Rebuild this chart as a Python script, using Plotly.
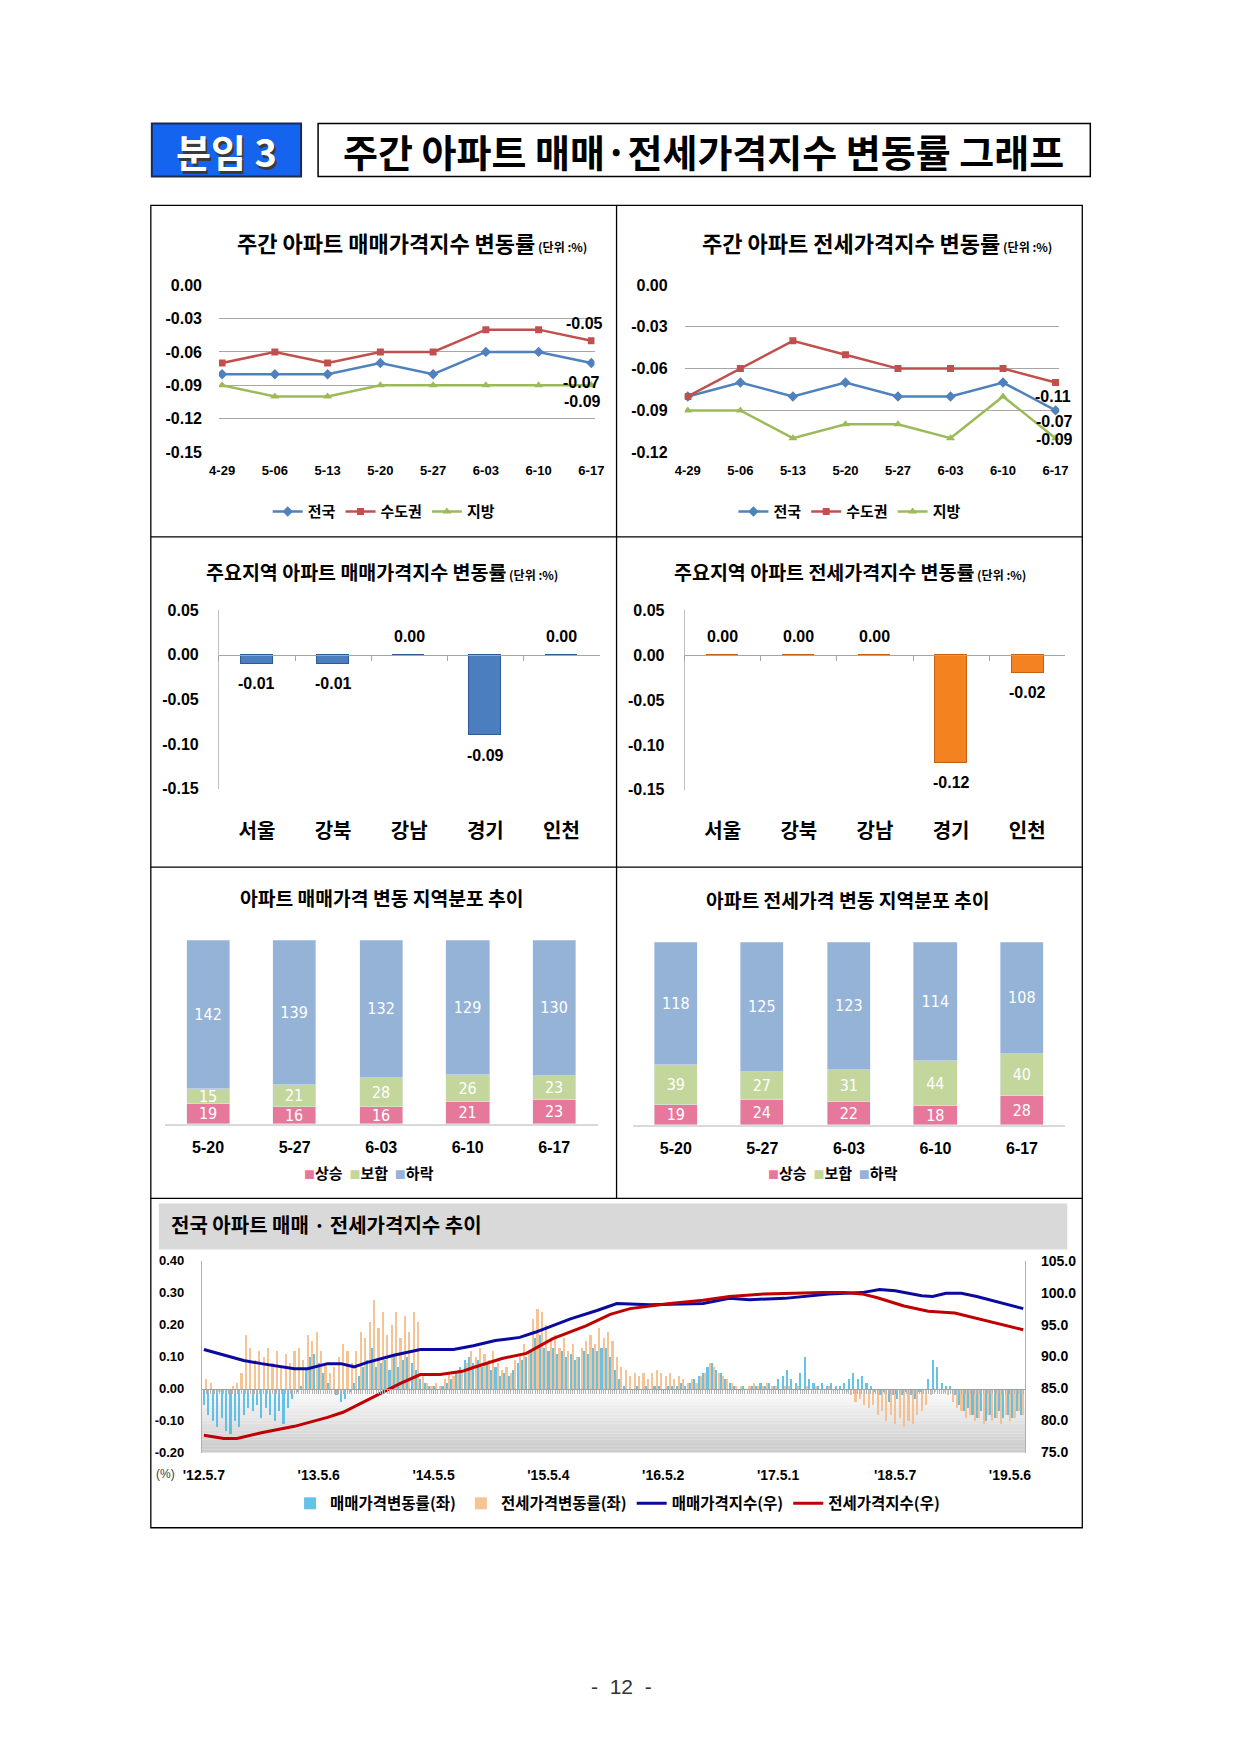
import plotly.graph_objects as go

# Page geometry: the page body keeps its default 8px margin, so the figure is sized
# to fit the window; AX/BX/AY/BY map reference-pixel positions to page positions.
PAGE_W, PAGE_H, OFF = 1239, 1752, 8
FW, FH = PAGE_W - 2 * OFF, PAGE_H - 2 * OFF
AX, BX = 1.0259, -21.1
AY, BY = 1.0103, -8.9
def fx(p): return (AX * p + BX - OFF) / FW
def fy(p): return 1 - (AY * p + BY - OFF) / FH

NUM = "Liberation Sans, Noto Sans CJK KR, sans-serif"
KR = "Noto Sans CJK KR, Liberation Sans, sans-serif"
NARROW = "Liberation Sans Narrow, DejaVu Sans Condensed, Liberation Sans, sans-serif"

# ---------------- data ----------------
weeks = ['4-29', '5-06', '5-13', '5-20', '5-27', '6-03', '6-10', '6-17']
sale_nation = [-0.08, -0.08, -0.08, -0.07, -0.08, -0.06, -0.06, -0.07]
sale_capital = [-0.07, -0.06, -0.07, -0.06, -0.06, -0.04, -0.04, -0.05]
sale_local = [-0.09, -0.10, -0.10, -0.09, -0.09, -0.09, -0.09, -0.09]
jeonse_nation = [-0.08, -0.07, -0.08, -0.07, -0.08, -0.08, -0.07, -0.09]
jeonse_capital = [-0.08, -0.06, -0.04, -0.05, -0.06, -0.06, -0.06, -0.07]
jeonse_local = [-0.09, -0.09, -0.11, -0.10, -0.10, -0.11, -0.08, -0.11]
sale_ticks = [0.00, -0.03, -0.06, -0.09, -0.12, -0.15]
jeonse_ticks = [0.00, -0.03, -0.06, -0.09, -0.12]

regions = ['서울', '강북', '강남', '경기', '인천']
region_sale = [-0.01, -0.01, 0.00, -0.09, 0.00]
region_jeonse = [0.00, 0.00, 0.00, -0.12, -0.02]
region_ticks = [0.05, 0.00, -0.05, -0.10, -0.15]

dist_weeks = ['5-20', '5-27', '6-03', '6-10', '6-17']
dist_names = ['상승', '보합', '하락']
sale_up = [19, 16, 16, 21, 23]
sale_flat = [15, 21, 28, 26, 23]
sale_down = [142, 139, 132, 129, 130]
jeonse_up = [19, 24, 22, 18, 28]
jeonse_flat = [39, 27, 31, 44, 40]
jeonse_down = [118, 125, 123, 114, 108]

# long-term trend, weeks counted from 2012-05-07
trend_tick_weeks = [0, 52, 104, 156, 208, 260, 313, 365]
trend_tick_labels = ["'12.5.7", "'13.5.6", "'14.5.5", "'15.5.4", "'16.5.2", "'17.5.1", "'18.5.7", "'19.5.6"]
trend_left_ticks = [0.40, 0.30, 0.20, 0.10, 0.00, -0.10, -0.20]
trend_right_ticks = [105, 100, 95, 90, 85, 80, 75]
sale_chg = [
    -0.05, -0.08, -0.10, -0.12, -0.09, -0.13, -0.14, -0.10, -0.12, -0.08,
    -0.06, -0.07, -0.05, -0.09, -0.06, -0.08, -0.10, -0.07, -0.11, -0.06,
    -0.03, -0.01, 0.01, 0.06, 0.10, 0.11, 0.08, 0.05, 0.02, 0.00,
    -0.02, -0.04, -0.03, -0.01, 0.02, 0.04, 0.07, 0.09, 0.13, 0.07,
    0.08, 0.09, 0.06, 0.10, 0.07, 0.09, 0.10, 0.08, 0.06, 0.03,
    0.02, 0.01, 0.01, 0.00, 0.01, 0.02, 0.03, 0.05, 0.07, 0.09,
    0.10, 0.08, 0.09, 0.07, 0.08, 0.06, 0.07, 0.04, 0.05, 0.04,
    0.06, 0.08, 0.09, 0.10, 0.12, 0.16, 0.17, 0.13, 0.12, 0.13,
    0.11, 0.12, 0.10, 0.11, 0.09, 0.10, 0.12, 0.11, 0.13, 0.12,
    0.13, 0.13, 0.10, 0.06, 0.03, 0.01, 0.00, 0.00, 0.01, 0.00,
    0.01, 0.00, 0.01, 0.01, 0.00, 0.01, 0.01, 0.01, 0.02, 0.01,
    0.02, 0.03, 0.04, 0.05, 0.07, 0.08, 0.06, 0.05, 0.03, 0.02,
    0.01, 0.00, 0.01, 0.00, 0.01, 0.01, 0.02, 0.01, 0.02, 0.01,
    0.03, 0.04, 0.06, 0.03, 0.02, 0.05, 0.10, 0.03, 0.02, 0.01,
    0.02, 0.01, 0.02, 0.01, 0.01, 0.02, 0.03, 0.05, 0.03, 0.04,
    0.02, 0.01, -0.01, -0.02, -0.01, -0.04, -0.02, -0.03, -0.02, -0.01,
    -0.02, -0.03, -0.01, 0.00, 0.03, 0.09, 0.07, 0.02, 0.01, 0.01,
    -0.02, -0.05, -0.07, -0.06, -0.08, -0.09, -0.07, -0.10, -0.08, -0.09,
    -0.07, -0.09, -0.08, -0.09, -0.07, -0.08,
]
jeonse_chg = [
    0.03, 0.02, 0.00, -0.01, 0.00, 0.00, 0.01, 0.02, 0.05, 0.17,
    0.13, 0.09, 0.12, 0.10, 0.13, 0.08, 0.12, 0.07, 0.11, 0.08,
    0.12, 0.13, 0.09, 0.17, 0.15, 0.18, 0.12, 0.08, 0.05, 0.07,
    0.10, 0.14, 0.12, 0.08, 0.12, 0.18, 0.16, 0.21, 0.28, 0.19,
    0.24, 0.17, 0.20, 0.24, 0.16, 0.23, 0.18, 0.24, 0.21, 0.05,
    0.02, 0.01, 0.02, 0.01, 0.03, 0.05, 0.04, 0.06, 0.05, 0.08,
    0.12, 0.10, 0.13, 0.11, 0.09, 0.12, 0.08, 0.06, 0.07, 0.05,
    0.09, 0.11, 0.14, 0.12, 0.22, 0.25, 0.24, 0.20, 0.15, 0.17,
    0.13, 0.16, 0.12, 0.14, 0.10, 0.13, 0.15, 0.17, 0.14, 0.19,
    0.16, 0.18, 0.15, 0.10, 0.07, 0.06, 0.04, 0.05, 0.04, 0.05,
    0.03, 0.05, 0.06, 0.05, 0.04, 0.05, 0.03, 0.04, 0.03, 0.02,
    0.03, 0.02, 0.04, 0.05, 0.08, 0.07, 0.05, 0.04, 0.03, 0.02,
    0.01, 0.01, 0.00, 0.01, 0.02, 0.01, 0.01, 0.02, 0.01, 0.01,
    0.00, 0.01, 0.01, 0.00, 0.01, 0.00, 0.01, 0.00, 0.01, 0.00,
    0.00, 0.01, 0.00, 0.00, 0.00, -0.01, -0.02, -0.04, -0.03, -0.05,
    -0.06, -0.05, -0.08, -0.07, -0.10, -0.08, -0.11, -0.09, -0.12, -0.10,
    -0.11, -0.08, -0.07, -0.05, -0.02, -0.01, 0.00, -0.01, -0.02, -0.04,
    -0.06, -0.07, -0.09, -0.08, -0.10, -0.09, -0.11, -0.08, -0.10, -0.09,
    -0.11, -0.08, -0.10, -0.09, -0.07, -0.08,
]
chg_weeks = list(range(0, 2 * len(sale_chg), 2))
sale_idx_weeks = [0, 18, 26, 41, 47, 56, 62, 68, 74, 86, 98, 113, 122, 132, 143, 150, 166, 178, 187,
                  202, 226, 238, 247, 263, 283, 298, 306, 313, 325, 330, 336, 343, 350, 360, 371]
sale_idx = [91.1, 89.4, 88.9, 88.1, 88.1, 88.9, 88.9, 88.4, 89.1, 90.2, 91.1, 91.1, 91.7, 92.5, 93.0, 93.8,
            95.9, 97.2, 98.3, 98.1, 98.3, 99.1, 98.9, 99.1, 99.8, 100.0, 100.5, 100.3, 99.5, 99.4, 99.9,
            99.9, 99.4, 98.5, 97.5]
jeonse_idx_weeks = [0, 9, 15, 26, 41, 56, 63, 78, 89, 98, 107, 117, 122, 135, 146, 158, 173, 184, 193,
                    211, 226, 238, 254, 280, 290, 298, 305, 317, 328, 340, 350, 360, 371]
jeonse_idx = [77.7, 77.2, 77.2, 78.1, 79.1, 80.5, 81.3, 83.9, 85.8, 87.2, 87.2, 87.7, 88.3, 89.7, 90.5,
              92.8, 94.8, 96.6, 97.5, 98.3, 98.8, 99.4, 99.8, 100.0, 100.0, 99.8, 99.2, 97.9, 97.1, 96.8,
              96.0, 95.1, 94.2]

# ---------------- figure ----------------
fig = go.Figure()

series_style = [('<b>전국</b>', '#4f81bd', 'diamond', 8),
                ('<b>수도권</b>', '#c0504d', 'square', 7),
                ('<b>지방</b>', '#9bbb59', 'triangle-up', 8)]
for (nm, col, sym, sz), ys in zip(series_style, [sale_nation, sale_capital, sale_local]):
    fig.add_trace(go.Scatter(x=weeks, y=ys, name=nm, mode='lines+markers',
                             line=dict(color=col, width=2.5), marker=dict(symbol=sym, size=sz, color=col),
                             xaxis='x', yaxis='y', legend='legend', hoverinfo='skip'))
for (nm, col, sym, sz), ys in zip(series_style, [jeonse_nation, jeonse_capital, jeonse_local]):
    fig.add_trace(go.Scatter(x=weeks, y=ys, name=nm, mode='lines+markers',
                             line=dict(color=col, width=2.5), marker=dict(symbol=sym, size=sz, color=col),
                             xaxis='x2', yaxis='y2', legend='legend2', hoverinfo='skip'))

fig.add_trace(go.Bar(x=regions, y=region_sale, width=0.42, xaxis='x3', yaxis='y3', showlegend=False,
                     marker=dict(color='#4a7ebf', line=dict(color='#2d5b96', width=1)), hoverinfo='skip'))
fig.add_trace(go.Bar(x=regions, y=region_jeonse, width=0.42, xaxis='x4', yaxis='y4', showlegend=False,
                     marker=dict(color='#f58220', line=dict(color='#c4600f', width=1)), hoverinfo='skip'))

dist_colors = ['#e6799b', '#c3d69b', '#95b3d7']
for nm, col, ys in zip(dist_names, dist_colors, [sale_up, sale_flat, sale_down]):
    fig.add_trace(go.Bar(x=dist_weeks, y=ys, name=nm, width=0.5, marker=dict(color=col),
                         text=ys, textposition='inside', insidetextanchor='middle', constraintext='none',
                         textangle=0, textfont=dict(family=NARROW, size=16, color='#ffffff'),
                         xaxis='x5', yaxis='y5', showlegend=False, hoverinfo='skip'))
for nm, col, ys in zip(dist_names, dist_colors, [jeonse_up, jeonse_flat, jeonse_down]):
    fig.add_trace(go.Bar(x=dist_weeks, y=ys, name=nm, width=0.5, marker=dict(color=col),
                         text=ys, textposition='inside', insidetextanchor='middle', constraintext='none',
                         textangle=0, textfont=dict(family=NARROW, size=16, color='#ffffff'),
                         xaxis='x6', yaxis='y6', showlegend=False, hoverinfo='skip'))

fig.add_trace(go.Bar(x=chg_weeks, y=sale_chg, width=0.95, name='매매가격변동률(좌)',
                     marker=dict(color='#4cb8e3', line=dict(width=0)), opacity=0.85,
                     xaxis='x7', yaxis='y7', legend='legend5', hoverinfo='skip'))
fig.add_trace(go.Bar(x=[w + 1 for w in chg_weeks], y=jeonse_chg, width=0.95, name='전세가격변동률(좌)',
                     marker=dict(color='#f6bd8a', line=dict(width=0)), opacity=0.9,
                     xaxis='x7', yaxis='y7', legend='legend5', hoverinfo='skip'))
fig.add_trace(go.Scatter(x=sale_idx_weeks, y=sale_idx, mode='lines', name='매매가격지수(우)',
                         line=dict(color='#0a0a9e', width=3), xaxis='x7', yaxis='y8', legend='legend5',
                         hoverinfo='skip'))
fig.add_trace(go.Scatter(x=jeonse_idx_weeks, y=jeonse_idx, mode='lines', name='전세가격지수(우)',
                         line=dict(color='#c00000', width=3), xaxis='x7', yaxis='y8', legend='legend5',
                         hoverinfo='skip'))

def tf(size, bold=True, family=NUM, color='#000000'):
    d = dict(family=family, size=size, color=color)
    if bold:
        d['weight'] = 'bold'
    return d

def zero_pos(dom, rng):
    return dom[0] + (0 - rng[0]) / (rng[1] - rng[0]) * (dom[1] - dom[0])

def labels(vals, fmt):
    return [format(v, fmt) for v in vals]

# axes ranges / domains
y1_dom = [fy(453), fy(285)]
y3_dom = [fy(789), fy(610)]
y4_dom = [fy(790), fy(610)]
y7_dom = [fy(1452), fy(1260)]
r1 = [-0.1505, 0.0005]
r2 = [-0.1204, 0.0004]
r34 = [-0.1502, 0.0502]
r7 = [-0.2005, 0.4005]
max_total = max(a + b + c for a, b, c in zip(sale_up, sale_flat, sale_down))

layout_axes = dict(
    xaxis=dict(domain=[fx(220), fx(595)], anchor='y', type='category', range=[-0.06, 7.06],
               showgrid=False, showline=False, ticks='', tickfont=tf(13), ticklabelstandoff=8),
    yaxis=dict(domain=y1_dom, anchor='x', range=r1, tickmode='array', tickvals=sale_ticks,
               ticktext=labels(sale_ticks, '.2f'),
               showgrid=True, gridcolor='#a6a6a6', gridwidth=1, zeroline=False, showline=False,
               tickfont=tf(16), ticklabelstandoff=16),
    xaxis2=dict(domain=[fx(685), fx(1059)], anchor='y2', type='category', range=[-0.06, 7.07],
                showgrid=False, showline=False, ticks='', tickfont=tf(13), ticklabelstandoff=8),
    yaxis2=dict(domain=y1_dom, anchor='x2', range=r2, tickmode='array', tickvals=jeonse_ticks,
                ticktext=labels(jeonse_ticks, '.2f'), showgrid=True, gridcolor='#a6a6a6', gridwidth=1,
                zeroline=False, showline=False, tickfont=tf(16), ticklabelstandoff=16),
    xaxis3=dict(domain=[fx(220), fx(600)], anchor='free', position=zero_pos(y3_dom, r34), type='category',
                range=[-0.5, 4.5], showline=True, linecolor='#a6a6a6', ticks='outside', ticklen=5,
                tickcolor='#a6a6a6', tickson='boundaries', showgrid=False,
                tickfont=tf(20, family=KR), ticklabelstandoff=158),
    yaxis3=dict(domain=y3_dom, anchor='x3', range=r34, tickmode='array', tickvals=region_ticks,
                ticktext=labels(region_ticks, '.2f'), showgrid=False, zeroline=False, showline=True,
                linecolor='#bfbfbf', tickfont=tf(16), ticklabelstandoff=16),
    xaxis4=dict(domain=[fx(685), fx(1065)], anchor='free', position=zero_pos(y4_dom, r34), type='category',
                range=[-0.5, 4.5], showline=True, linecolor='#a6a6a6', ticks='outside', ticklen=5,
                tickcolor='#a6a6a6', tickson='boundaries', showgrid=False,
                tickfont=tf(20, family=KR), ticklabelstandoff=158),
    yaxis4=dict(domain=y4_dom, anchor='x4', range=r34, tickmode='array', tickvals=region_ticks,
                ticktext=labels(region_ticks, '.2f'), showgrid=False, zeroline=False, showline=True,
                linecolor='#bfbfbf', tickfont=tf(16), ticklabelstandoff=16),
    xaxis5=dict(domain=[fx(166), fx(598)], anchor='y5', type='category', showline=True,
                linecolor='#d9d9d9', linewidth=1.5, ticks='', showgrid=False, tickfont=tf(16),
                ticklabelstandoff=8),
    yaxis5=dict(domain=[fy(1124), fy(940)], anchor='x5', range=[0, max_total], visible=False),
    xaxis6=dict(domain=[fx(633), fx(1065)], anchor='y6', type='category', showline=True,
                linecolor='#d9d9d9', linewidth=1.5, ticks='', showgrid=False, tickfont=tf(16),
                ticklabelstandoff=8),
    yaxis6=dict(domain=[fy(1125), fy(942)], anchor='x6', range=[0, max_total], visible=False),
    xaxis7=dict(domain=[fx(203), fx(1025)], anchor='free', position=zero_pos(y7_dom, r7),
                range=[-0.9, 371.9], tickmode='array', tickvals=trend_tick_weeks, ticktext=trend_tick_labels,
                showline=True, linecolor='#a0a0a0', ticks='outside', ticklen=4, tickcolor='#a0a0a0',
                minor=dict(tickmode='linear', tick0=0, dtick=1, ticks='outside', ticklen=4,
                           tickcolor='#b4b4b4'),
                showgrid=False, tickfont=tf(14), ticklabelstandoff=70),
    yaxis7=dict(domain=y7_dom, anchor='x7', range=r7, tickmode='array', tickvals=trend_left_ticks,
                ticktext=labels(trend_left_ticks, '.2f'), showgrid=False, zeroline=False, showline=True,
                linecolor='#b0b0b0', tickfont=tf(13), ticklabelstandoff=14),
    yaxis8=dict(overlaying='y7', side='right', anchor='x7', range=[74.98, 105.02], tickmode='array',
                tickvals=trend_right_ticks, ticktext=labels(trend_right_ticks, '.1f'), showgrid=False,
                zeroline=False, showline=True, linecolor='#b0b0b0', tickfont=tf(14), ticklabelstandoff=12),
)

legend_common = dict(orientation='h', xanchor='center', yanchor='middle', bgcolor='rgba(0,0,0,0)',
                     itemwidth=30, traceorder='normal', itemclick=False)
layout_legends = dict(
    legend=dict(x=fx(385), y=fy(512), font=tf(15, family=KR), **legend_common),
    legend2=dict(x=fx(850), y=fy(512), font=tf(15, family=KR), **legend_common),
    legend5=dict(x=fx(618), y=fy(1503), font=tf(15.5, family=KR), **legend_common),
)

ann = []
def paper_text(x, y, text, size, bold=True, family=KR, color='#000000', xanchor='center'):
    ann.append(dict(x=fx(x), y=fy(y), xref='paper', yref='paper', text=text, showarrow=False,
                    xanchor=xanchor, yanchor='middle', font=tf(size, bold, family, color)))

unit = "<span style='font-size:12px'> (단위 :%)</span>"
paper_text(413, 243, '주간 아파트 매매가격지수 변동률' + unit, 22)
paper_text(877, 243, '주간 아파트 전세가격지수 변동률' + unit, 22)
paper_text(383, 572, '주요지역 아파트 매매가격지수 변동률' + unit, 19.5)
paper_text(850, 572, '주요지역 아파트 전세가격지수 변동률' + unit, 19.5)
paper_text(383, 898, '아파트 매매가격 변동 지역분포 추이', 19.3)
paper_text(848, 900, '아파트 전세가격 변동 지역분포 추이', 19.3)
paper_text(170, 1224, '전국 아파트 매매 · 전세가격지수 추이', 20, xanchor='left')
paper_text(167, 1473, '(%)', 12, bold=False, family=NUM, color='#404040')
paper_text(622, 1686, '-\u00a0\u00a012\u00a0\u00a0-', 21, bold=False, family=NUM, color='#333333')
# header
paper_text(230, 154, '분임 3', 38, color='#3a3a3a')
paper_text(228, 151, '분임 3', 38, color='#ffffff')
paper_text(704, 151, '주간 아파트 매매·전세가격지수 변동률 그래프', 38)

# compact legends for the distribution panels (square marker + label, Excel style)
dist_legend = '\u00a0\u00a0'.join(
    f"<span style='color:{c}; font-size:11px'>■</span>{n}" for n, c in zip(dist_names, dist_colors))
paper_text(370, 1172, dist_legend, 15)
paper_text(833, 1172, dist_legend, 15)

# end-of-line value labels (panels 1, 2)
def end_label(xref, yref, series, ysh, xsh):
    ann.append(dict(x=weeks[-1], y=series[-1], xref=xref, yref=yref, text=f'{series[-1]:.2f}',
                    showarrow=False, xshift=xsh, yshift=ysh, xanchor='center', yanchor='middle',
                    font=tf(16)))
end_label('x', 'y', sale_capital, 17, -7)
end_label('x', 'y', sale_nation, -19, -10)
end_label('x', 'y', sale_local, -16, -9)
end_label('x2', 'y2', jeonse_local, 42, -3)
end_label('x2', 'y2', jeonse_capital, -39, -1)
end_label('x2', 'y2', jeonse_nation, -29, -1)

# bar value labels (panels 3, 4)
for xr, yr, vals in [('x3', 'y3', region_sale), ('x4', 'y4', region_jeonse)]:
    for c, v in zip(regions, vals):
        ann.append(dict(x=c, y=v, xref=xr, yref=yr, text=f'{v:.2f}', showarrow=False,
                        yshift=(-20 if v < 0 else 18), xanchor='center', yanchor='middle', font=tf(16)))

shapes = []
# gradient below zero in the trend chart
n_band = 20
for i in range(n_band):
    g = int(255 - (i + 1) * 52 / n_band)
    shapes.append(dict(type='rect', xref='x7 domain', yref='y7', x0=0, x1=1,
                       y0=r7[0] * i / n_band, y1=r7[0] * (i + 1) / n_band,
                       fillcolor=f'rgb({g},{g},{g})', line=dict(width=0), layer='below'))
def prect(x0, y0, x1, y1, **kw):
    d = dict(type='rect', xref='paper', yref='paper', x0=fx(x0), x1=fx(x1), y0=fy(y1), y1=fy(y0))
    d.update(kw)
    shapes.append(d)
def pline(x0, y0, x1, y1, color='#000000', width=1.3):
    shapes.append(dict(type='line', xref='paper', yref='paper', x0=fx(x0), x1=fx(x1), y0=fy(y0), y1=fy(y1),
                       line=dict(color=color, width=width)))

prect(160, 1203, 1067, 1249, fillcolor='#d9d9d9', line=dict(width=0), layer='below')
prect(152, 206, 1082, 1527, line=dict(color='#000000', width=1.3))
pline(617, 206, 617, 1198)
pline(152, 537, 1082, 537)
pline(152, 867, 1082, 867)
pline(152, 1198, 1082, 1198)
prect(153, 124, 302, 177, fillcolor='#1464f0', line=dict(color='#1c2a55', width=2), layer='below')
prect(319, 124, 1090, 177, line=dict(color='#000000', width=1.5), layer='below')

fig.update_layout(
    width=FW, height=FH, margin=dict(l=0, r=0, t=0, b=0), autosize=False,
    paper_bgcolor='#ffffff', plot_bgcolor='rgba(0,0,0,0)',
    barmode='stack', bargap=0,
    font=dict(family=KR, color='#000000'),
    annotations=ann, shapes=shapes,
    **layout_axes, **layout_legends,
)

fig.write_html('out.html')
